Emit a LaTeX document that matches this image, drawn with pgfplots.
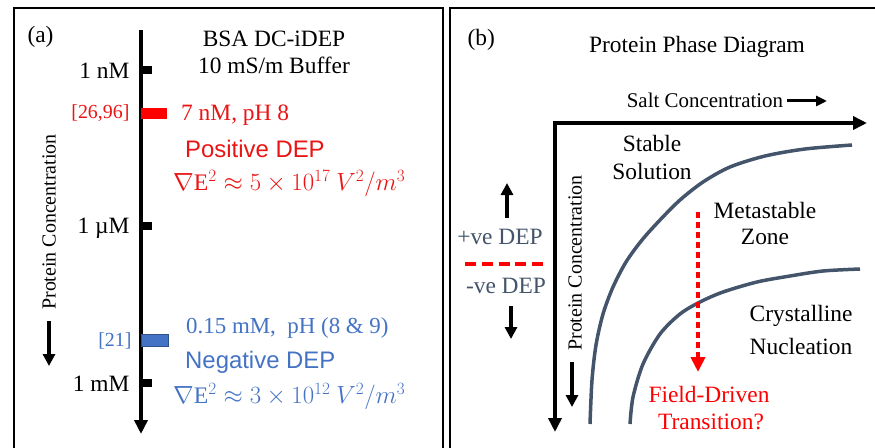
\documentclass[border=0pt]{standalone}
\usepackage{pgfplots}
\pgfplotsset{compat=1.18}
\usetikzlibrary{arrows.meta}
\usepackage{fontspec}
\setmainfont{Liberation Serif}
\newfontfamily\arial{Liberation Sans}
\definecolor{myred}{RGB}{235,20,20}
\definecolor{myblue}{RGB}{68,114,196}
\definecolor{mygray}{RGB}{68,84,106}
\newcommand{\fs}[1]{\fontsize{#1}{#1}\selectfont}
\begin{document}
\begin{tikzpicture}
\begin{axis}[name=ax, scale only axis, width=875bp, height=448bp,
  xmin=0, xmax=875, ymin=0, ymax=448, y dir=reverse, hide axis, clip=false]
% panel frames
\addplot[black, line width=2.2bp, line join=miter] coordinates {(14,448) (14,8) (443,8) (443,448)};
\addplot[black, line width=2.2bp, line join=miter] coordinates {(450,448) (450,8) (875,8)};
% ---------- panel (a)
\addplot[black, line width=4bp, -{Triangle[length=14bp,width=13bp]}] coordinates {(141,30) (141,434)};
\addplot[fill=black, draw=none] coordinates {(141,66) (152,66) (152,74) (141,74)} -- cycle;
\addplot[fill=black, draw=none] coordinates {(141,222) (152,222) (152,230) (141,230)} -- cycle;
\addplot[fill=black, draw=none] coordinates {(141,379) (152,379) (152,387) (141,387)} -- cycle;
\addplot[fill=red, draw=none] coordinates {(141,108) (167,108) (167,119) (141,119)} -- cycle;
\addplot[fill=myblue, draw=myblue!70!black, line width=0.8bp] coordinates {(141,334) (168,334) (168,346) (141,346)} -- cycle;
\addplot[black, line width=3.5bp, -{Triangle[length=12bp,width=12bp]}] coordinates {(49,321) (49,366)};
\node[anchor=west] at (24,37) {\fs{23.5}(a)};
\node at (274,39) {\fs{23.5}BSA DC-iDEP};
\node at (274,65) {\fs{23.5}10 mS/m Buffer};
\node[anchor=east] at (133,71) {\fs{23.5}1 nM};
\node[anchor=east] at (133,228) {\fs{23.5}1 \textmu M};
\node[anchor=east] at (133,384) {\fs{23.5}1 mM};
\node[anchor=east, text=myred] at (133,113) {\fs{20}[26,96]};
\node[anchor=east, text=myblue] at (135,341) {\fs{20}[21]};
\node[anchor=west, text=myred, inner sep=0pt] at (181,115) {\fs{23.5}7 nM, pH 8};
\node[anchor=west, text=myred, inner sep=0pt] at (185,149) {\arial\fs{24}Positive DEP};
\node[anchor=west, text=myred, inner sep=0pt] at (173,184) {\fs{23.8}$\nabla\mathrm{E}^2 \approx 5\times 10^{17}\ V^2/m^3$};
\node[anchor=west, text=myblue, inner sep=0pt] at (186,328) {\fs{23}0.15 mM,\ \ pH (8 \& 9)};
\node[anchor=west, text=myblue, inner sep=0pt] at (185,362) {\arial\fs{24}Negative DEP};
\node[anchor=west, text=myblue, inner sep=0pt] at (173,397) {\fs{23.8}$\nabla\mathrm{E}^2 \approx 3\times 10^{12}\ V^2/m^3$};
\node[rotate=90] at (49,222) {\fs{20}Protein Concentration};
% ---------- panel (b)
\addplot[black, line width=4bp, line join=miter, {Triangle[length=14bp,width=13bp]}-{Triangle[length=14bp,width=13bp]}] coordinates {(555,432) (555,123) (867,123)};
\addplot[black, line width=3bp, -{Triangle[length=11bp,width=10bp]}] coordinates {(787,101) (827,101)};
\addplot[black, line width=3.5bp, -{Triangle[length=12bp,width=12bp]}] coordinates {(572,362) (572,407)};
\addplot[black, line width=3.5bp, -{Triangle[length=12bp,width=12bp]}] coordinates {(507,218) (507,183)};
\addplot[black, line width=3.5bp, -{Triangle[length=12bp,width=12bp]}] coordinates {(511,306) (511,339)};
\addplot[red, line width=3.5bp, dash pattern=on 11bp off 5.75bp] coordinates {(465,264) (543,264)};
\addplot[mygray, line width=3.5bp, smooth] coordinates {(590,424) (592,380) (596,345) (603,314) (613,287) (626,262) (642,240) (660,220) (680,200) (703,182) (730,167) (765,156) (805,149) (852,145)};
\addplot[mygray, line width=3.5bp, smooth] coordinates {(630,424) (633,397) (643,364) (660,334) (680,314) (700,302) (723,292) (757,282) (790,276) (823,271) (860,269)};
\addplot[red, line width=4bp, dash pattern=on 6bp off 4bp, -{Triangle[length=15bp,width=14bp]}] coordinates {(698,212) (698,372)};
\node[anchor=west] at (464,40) {\fs{23.5}(b)};
\node at (697,47) {\fs{23.5}Protein Phase Diagram};
\node at (705,100) {\fs{21}Salt Concentration};
\node at (652,143) {\fs{23.5}Stable};
\node at (652,171) {\fs{23.5}Solution};
\node at (765,210) {\fs{23.5}Metastable};
\node at (765,237) {\fs{23.5}Zone};
\node at (801,316) {\fs{23.5}Crystalline};
\node at (801,346) {\fs{23.5}Nucleation};
\node[text=red] at (709,394) {\fs{23.5}Field-Driven};
\node[text=red] at (711,422) {\fs{23.5}Transition?};
\node[text=mygray] at (500,237) {\fs{23.5}+ve DEP};
\node[text=mygray] at (506,286) {\fs{23.5}-ve DEP};
\node[rotate=90] at (575,263) {\fs{20}Protein Concentration};
\end{axis}
\pgfresetboundingbox
\path[use as bounding box] (ax.south west) rectangle (ax.north east);
\end{tikzpicture}
\end{document}
